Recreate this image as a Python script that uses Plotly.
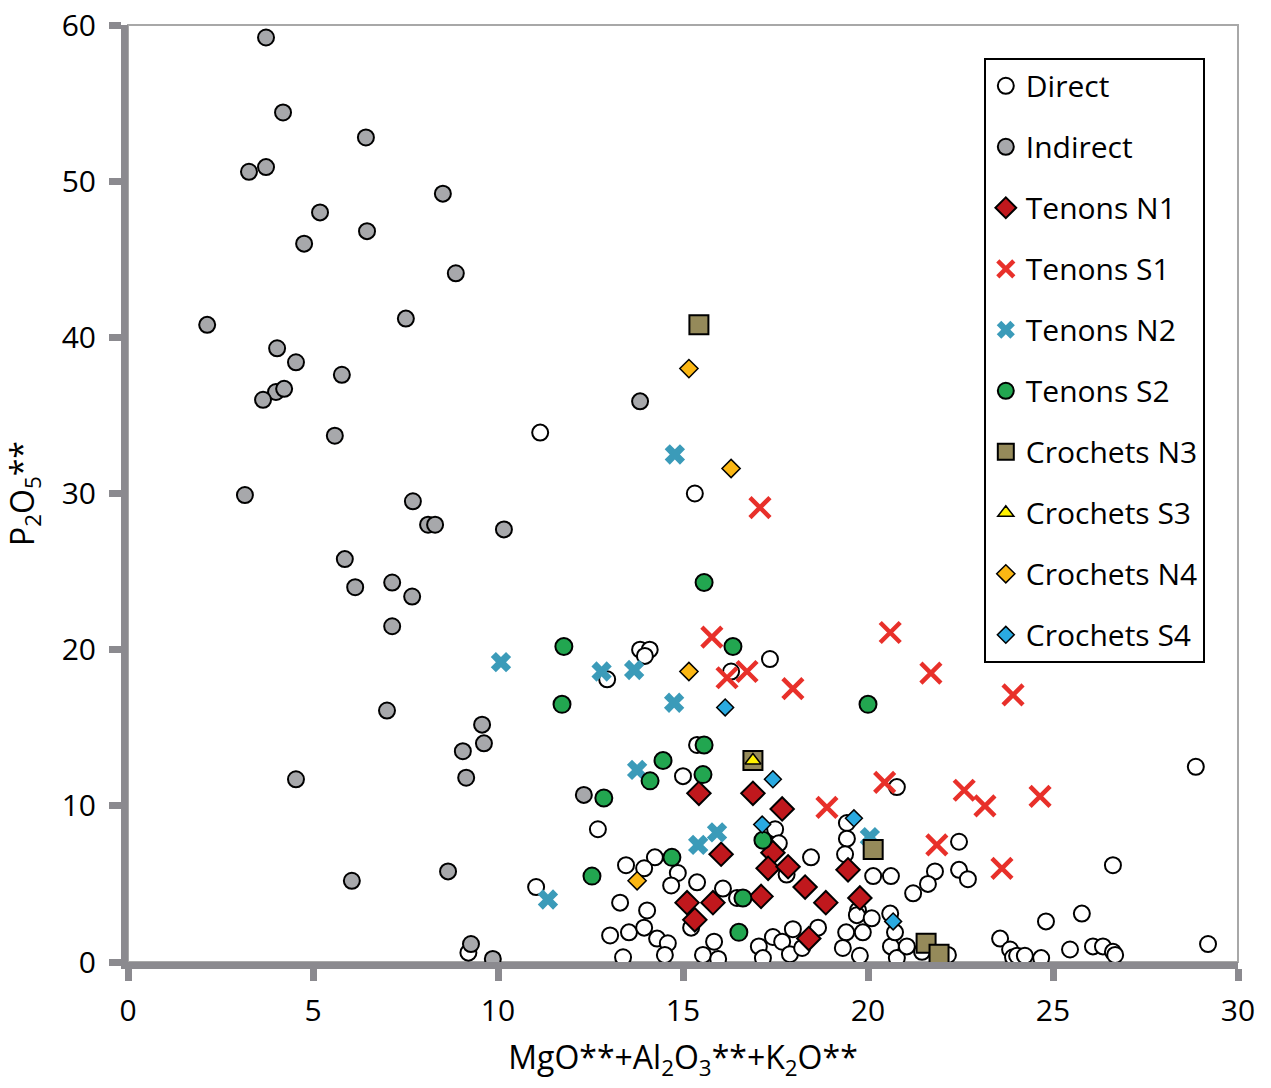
import plotly.graph_objects as go

# ---------------- data ----------------
direct_x = [11.14, 15.32, 13.84, 14.1, 13.97, 17.35, 12.95, 16.3, 15.38, 15.0, 20.78, 19.43, 12.7, 17.49,
            17.59, 19.43, 19.38, 17.8, 18.46, 14.24, 13.46, 13.95, 14.86, 14.68, 11.03, 15.38, 16.46, 16.08,
            15.22, 19.73, 19.7, 20.1, 20.6, 13.3, 14.03, 13.03, 13.54, 13.95, 14.3, 14.59, 14.51, 13.38,
            15.84, 15.54, 15.95, 17.05, 17.16, 17.43, 17.68, 17.97, 17.89, 18.22, 18.65, 19.41, 19.32,
            19.86, 19.78, 20.62, 9.2, 28.86, 22.46, 20.14, 20.62, 21.81, 21.62, 21.22, 22.46, 22.7, 26.62,
            25.78, 24.81, 20.73, 20.78, 21.05, 21.46, 22.16, 23.57, 23.84, 23.92, 24.03, 24.24, 24.68,
            25.46, 26.08, 26.35, 26.62, 26.68, 29.19]
direct_y = [33.9, 30.0, 20.0, 20.0, 19.6, 19.4, 18.1, 18.6, 13.9, 11.9, 11.2, 8.9, 8.5, 8.5,
            7.6, 7.9, 6.9, 5.6, 6.7, 6.7, 6.2, 6.0, 5.7, 4.9, 4.8, 5.1, 4.1, 4.7,
            2.2, 3.3, 3.0, 2.8, 3.1, 3.8, 3.3, 1.7, 1.9, 2.2, 1.5, 1.2, 0.45, 0.3,
            1.3, 0.45, 0.2, 1.0, 0.25, 1.6, 1.3, 2.1, 0.5, 0.9, 2.2, 1.9, 0.9,
            1.9, 0.4, 1.0, 0.6, 12.5, 7.7, 5.5, 5.5, 5.8, 5.0, 4.4, 5.9, 5.3, 6.2,
            3.1, 2.6, 1.9, 0.25, 1.0, 0.65, 0.45, 1.5, 0.8, 0.3, 0.4, 0.4, 0.25,
            0.8, 1.0, 1.0, 0.65, 0.45, 1.15]

indirect_x = [3.73, 4.19, 6.43, 3.27, 3.73, 8.51, 5.19, 4.76, 6.46, 8.86, 2.14, 7.51, 4.03, 4.54,
              4.0, 4.22, 3.65, 5.78, 13.84, 5.59, 3.16, 7.7, 8.11, 8.3, 10.16, 5.86, 6.14, 7.14,
              7.68, 7.14, 7.0, 9.57, 9.05, 9.62, 9.14, 4.54, 12.32, 8.65, 6.05, 9.27, 9.86]
indirect_y = [59.2, 54.4, 52.8, 50.6, 50.9, 49.2, 48.0, 46.0, 46.8, 44.1, 40.8, 41.2, 39.3, 38.4,
              36.5, 36.7, 36.0, 37.6, 35.9, 33.7, 29.9, 29.5, 28.0, 28.0, 27.7, 25.8, 24.0, 24.3,
              23.4, 21.5, 16.1, 15.2, 13.5, 14.0, 11.8, 11.7, 10.7, 5.8, 5.2, 1.15, 0.2]

n1_x = [15.43, 16.89, 17.68, 16.03, 17.43, 17.3, 17.84, 19.46, 18.3, 18.86, 17.11, 15.81, 15.11, 15.32, 19.78, 18.4]
n1_y = [10.8, 10.8, 9.8, 6.9, 7.0, 6.0, 6.1, 5.9, 4.8, 3.8, 4.2, 3.8, 3.8, 2.7, 4.1, 1.5]

s1_x = [17.08, 20.6, 15.78, 21.7, 16.19, 16.73, 17.97, 23.92, 20.45, 22.6, 23.16, 24.65, 18.89, 21.86, 23.62]
s1_y = [29.1, 21.1, 20.8, 18.5, 18.2, 18.6, 17.5, 17.1, 11.5, 11.0, 10.0, 10.6, 9.9, 7.5, 6.0]

n2_x = [14.78, 10.08, 12.8, 13.68, 14.76, 13.76, 15.92, 15.41, 20.05, 11.35]
n2_y = [32.5, 19.2, 18.6, 18.7, 16.6, 12.3, 8.3, 7.5, 8.0, 4.0]

s2_x = [15.57, 16.35, 11.78, 11.73, 20.0, 15.57, 14.46, 14.11, 15.54, 12.86, 17.16, 14.7, 12.54, 16.62, 16.51]
s2_y = [24.3, 20.2, 20.2, 16.5, 16.5, 13.9, 12.9, 11.6, 12.0, 10.5, 7.8, 6.7, 5.5, 4.1, 1.9]

n3_x = [15.43, 16.89, 20.14, 21.57, 21.92]
n3_y = [40.8, 12.9, 7.2, 1.2, 0.5]

s3_x = [16.89]
s3_y = [12.9]

n4_x = [15.16, 16.3, 15.16, 13.76]
n4_y = [38.0, 31.6, 18.6, 5.2]

s4_x = [16.14, 17.43, 19.62, 17.14, 20.68]
s4_y = [16.3, 11.7, 9.2, 8.8, 2.6]

x_ticks = [0, 5, 10, 15, 20, 25, 30]
y_ticks = [0, 10, 20, 30, 40, 50, 60]

# ---------------- styles ----------------
AXIS_GREY = "#8b8a8f"
FONT = "Open Sans"

series = [
    ("Direct", direct_x, direct_y, dict(symbol="circle", size=16, color="white", line=dict(color="black", width=2))),
    ("Indirect", indirect_x, indirect_y, dict(symbol="circle", size=16, color="#a7a8ab", line=dict(color="black", width=2))),
    ("Tenons N1", n1_x, n1_y, dict(symbol="diamond", size=18, color="#c0181d", line=dict(color="black", width=2))),
    ("Tenons S1", s1_x, s1_y, dict(symbol="x-thin-open", size=20, color="#e8302a", line=dict(color="#e8302a", width=4.5))),
    ("Tenons N2", n2_x, n2_y, dict(symbol="x", size=18, color="#3b9bb9", line=dict(width=0))),
    ("Tenons S2", s2_x, s2_y, dict(symbol="circle", size=17, color="#22a650", line=dict(color="black", width=2))),
    ("Crochets N3", n3_x, n3_y, dict(symbol="square", size=19, color="#958a5a", line=dict(color="black", width=2))),
    ("Crochets S3", s3_x, s3_y, dict(symbol="triangle-up", size=14, color="#fff200", line=dict(color="black", width=1.5))),
    ("Crochets N4", n4_x, n4_y, dict(symbol="diamond", size=14, color="#fbb714", line=dict(color="black", width=1.5))),
    ("Crochets S4", s4_x, s4_y, dict(symbol="diamond", size=13, color="#2aaae1", line=dict(color="black", width=1.5))),
]

fig = go.Figure()
for i, (name, xs, ys, mk) in enumerate(series):
    fig.add_trace(go.Scatter(x=xs, y=ys, mode="markers", name=name, marker=mk,
                             cliponaxis=False, legendgroup=f"g{i}"))

common_tick = dict(ticklen=12, tickwidth=7, tickcolor=AXIS_GREY, showgrid=False, zeroline=False,
                   automargin=False)

fig.update_layout(
    width=1271, height=1088,
    margin=dict(l=128, r=33, t=25, b=126),
    paper_bgcolor="white", plot_bgcolor="white",
    font=dict(family=FONT, size=30, color="black"),
    xaxis=dict(range=[0, 30], tickvals=x_ticks, ticks="outside", showline=True, linewidth=7,
               linecolor=AXIS_GREY, ticklabelstandoff=4, tickfont=dict(size=30),
               title=dict(text="MgO**+Al<sub>2</sub>O<sub>3</sub>**+K<sub>2</sub>O**", standoff=20,
                          font=dict(size=32)),
               **common_tick),
    yaxis=dict(range=[0, 60], tickvals=y_ticks, ticks="outside", showline=True, linewidth=7,
               linecolor=AXIS_GREY, ticklabelstandoff=7, tickfont=dict(size=30),
               title=dict(text="P<sub>2</sub>O<sub>5</sub>**", standoff=20, font=dict(size=32)),
               **common_tick),
    xaxis2=dict(range=[0, 30], tickvals=x_ticks, ticks="inside", overlaying="x", anchor="y",
                side="bottom", showticklabels=False, showline=False, **common_tick),
    yaxis2=dict(range=[0, 60], tickvals=y_ticks, ticks="inside", overlaying="y", anchor="x",
                side="left", showticklabels=False, showline=False, **common_tick),
    legend=dict(x=0.771, y=0.965, xanchor="left", yanchor="top", bgcolor="white",
                bordercolor="black", borderwidth=2, font=dict(size=30, family=FONT),
                tracegroupgap=19, traceorder="grouped", itemsizing="trace"),
    shapes=[dict(type="rect", xref="paper", yref="paper", x0=0, x1=1, y0=0, y1=1,
                 line=dict(color="#a8a8a8", width=2), layer="below")],
    showlegend=True,
)

fig.write_html("out.html", config={"displayModeBar": False},
               post_script="document.body.style.margin='0';document.body.style.overflow='hidden';")
